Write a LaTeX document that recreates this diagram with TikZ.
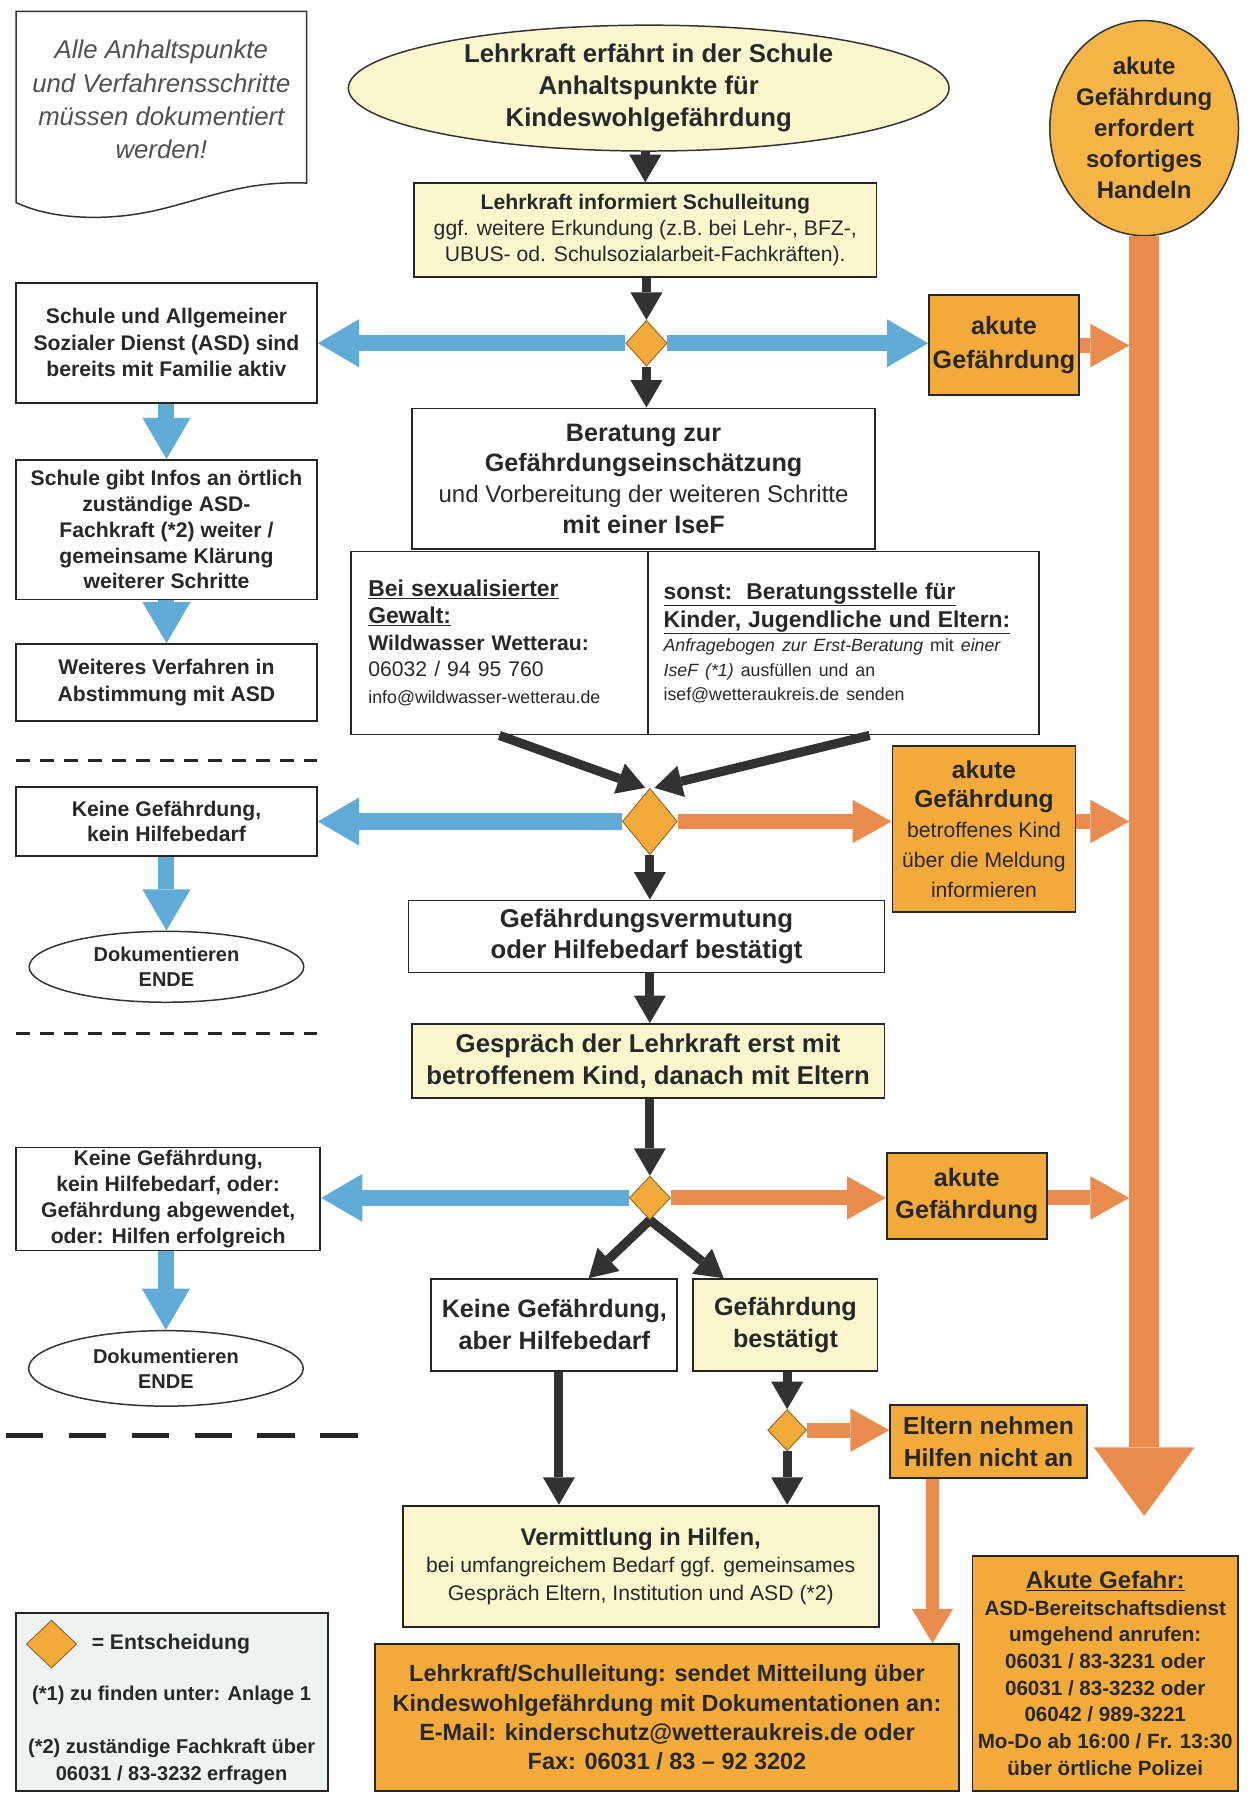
\documentclass[tikz,border=0pt]{standalone}
\usepackage{fontspec}
\setmainfont{Liberation Sans}
\usetikzlibrary{shapes.geometric,arrows.meta,calc}
\definecolor{cTxt}{RGB}{40,40,40}
\definecolor{cNote}{RGB}{80,80,80}
\definecolor{cYel}{RGB}{250,246,205}
\definecolor{cOrBox}{RGB}{242,170,58}
\definecolor{cCirc}{RGB}{245,180,70}
\definecolor{cOrArr}{RGB}{234,140,78}
\definecolor{cBlue}{RGB}{96,172,214}
\definecolor{cGray}{RGB}{50,50,50}
\definecolor{cLeg}{RGB}{238,242,241}
\definecolor{cDiaE}{RGB}{150,100,30}
\newcommand{\setfs}[2]{\fontsize{#1}{#2}\selectfont}
\tikzset{
  base/.style={text=cTxt, inner sep=0pt, align=center},
  bx/.style={base, draw=black!85, line width=1.6pt, rectangle},
  ell/.style={base, draw=black!80, line width=1.3pt, ellipse},
  dia/.style={diamond, draw=cDiaE, fill=cOrBox, line width=0.8pt, inner sep=0pt},
  blk/.style={draw=cGray, line width=8pt, -{Triangle[length=24pt,width=28pt,line width=0pt]}},
  blu/.style={draw=cBlue, line width=14pt, -{Triangle[length=36pt,width=42pt,line width=0pt]}},
  ora/.style={draw=cOrArr, line width=13pt, -{Triangle[length=34pt,width=38pt,line width=0pt]}},
  dashline/.style={draw=black!85, line width=2.5pt, dash pattern=on 12pt off 9pt}
}
\begin{document}
\begin{tikzpicture}[x=1pt,y=-1pt]
\useasboundingbox (0,0) rectangle (1098,1568);
\fill[white] (0,0) rectangle (1098,1568);

% note (document shape)
\draw[line width=1.3pt, draw=black!80, fill=white] (14,10) -- (268,10) -- (268,160)
  .. controls (215,158) and (185,172) .. (140,183)
  .. controls (95,194) and (45,192) .. (14,177) -- cycle;
\node[base, text=cNote, font=\setfs{22.5}{29}\itshape] (note) at (141,87)
  {Alle Anhaltspunkte\\und Verfahrensschritte\\müssen dokumentiert\\werden!};

% main column
\node[ell, fill=cYel, minimum width=525pt, minimum height=110pt, font=\setfs{22.5}{28}\bfseries] (start) at (567,77)
  {Lehrkraft erfährt in der Schule\\Anhaltspunkte für\\Kindeswohlgefährdung};
\node[bx, fill=cYel, minimum width=404pt, minimum height=82pt, font=\setfs{18.5}{22.5}] (info) at (564,201)
  {\textbf{Lehrkraft informiert Schulleitung}\\ggf. weitere Erkundung (z.B. bei Lehr-, BFZ-,\\UBUS- od. Schulsozialarbeit-Fachkräften).};
\node[dia, minimum width=36pt, minimum height=40pt] (d1) at (565,300) {};
\node[bx, minimum width=405pt, minimum height=123pt, font=\setfs{21}{27}] (ber) at (562.5,418.5)
  {\textbf{\setfs{22}{27}Beratung zur}\\\textbf{\setfs{22}{27}Gefährdungseinschätzung}\\und Vorbereitung der weiteren Schritte\\\textbf{\setfs{22}{27}mit einer IseF}};
\node[bx, align=left, text width=229pt, inner xsep=15pt, minimum height=160pt, font=\setfs{18.5}{23.5}] (splitL) at (436.5,562)
  {{\setfs{20}{24}\bfseries\underline{Bei sexualisierter}}\\
   {\setfs{20}{24}\bfseries\underline{Gewalt:}}\\
   \textbf{Wildwasser Wetterau:}\\
   06032 / 94 95 760\\
   {\setfs{15.5}{20}info@wildwasser-wetterau.de}};
\node[bx, align=left, text width=314pt, inner xsep=14pt, minimum height=160pt, font=\setfs{18.5}{21.5}] (splitR) at (737,562)
  {{\setfs{20}{24}\bfseries\underline{sonst:\ \ Beratungsstelle für}}\\[3pt]
   {\setfs{20}{24}\bfseries\underline{Kinder, Jugendliche und Eltern:}}\\
   {\setfs{15.5}{20}\textit{Anfragebogen zur Erst-Beratung} mit \textit{einer}}\\
   {\setfs{15.5}{20}\textit{IseF (*1)} ausfüllen und an}\\
   {\setfs{15.5}{20}isef@wetteraukreis.de senden}};
\node[dia, minimum width=48pt, minimum height=58pt] (d2) at (568,718) {};
\node[bx, minimum width=416pt, minimum height=63pt, font=\setfs{22.5}{27}\bfseries] (gv) at (565,818.5)
  {Gefährdungsvermutung\\oder Hilfebedarf bestätigt};
\node[bx, fill=cYel, minimum width=413pt, minimum height=65pt, font=\setfs{22.5}{28}\bfseries] (gs) at (566.5,927.5)
  {Gespräch der Lehrkraft erst mit\\betroffenem Kind, danach mit Eltern};
\node[dia, minimum width=36pt, minimum height=38pt] (d3) at (568,1047) {};
\node[bx, minimum width=215pt, minimum height=80pt, font=\setfs{22}{28}\bfseries] (kab) at (484.5,1158)
  {Keine Gefährdung,\\aber Hilfebedarf};
\node[bx, fill=cYel, minimum width=161pt, minimum height=80pt, font=\setfs{22}{28}\bfseries] (gb) at (686.5,1158)
  {Gefährdung\\bestätigt};
\node[dia, minimum width=34pt, minimum height=36pt] (d4) at (688,1250) {};
\node[bx, fill=cOrBox, minimum width=172pt, minimum height=64pt, font=\setfs{21.5}{28}\bfseries] (elt) at (864,1260)
  {Eltern nehmen\\Hilfen nicht an};
\node[bx, fill=cYel, minimum width=416pt, minimum height=106pt, font=\setfs{18.5}{24}] (verm) at (560,1369)
  {\textbf{\setfs{21}{24}Vermittlung in Hilfen,}\\bei umfangreichem Bedarf ggf. gemeinsames\\Gespräch Eltern, Institution und ASD (*2)};
\node[bx, fill=cOrBox, minimum width=510pt, minimum height=128pt, font=\setfs{20.5}{25.5}\bfseries] (big) at (583,1501)
  {Lehrkraft/Schulleitung: sendet Mitteilung über\\Kindeswohlgefährdung mit Dokumentationen an:\\E-Mail: kinderschutz@wetteraukreis.de oder\\Fax: 06031 / 83 – 92 3202};

% right column
\node[ell, fill=cCirc, minimum width=165pt, minimum height=188pt, inner xsep=-14pt, inner ysep=-2pt, font=\setfs{21}{27}\bfseries] (akut) at (1000,112)
  {akute\\Gefährdung\\erfordert\\sofortiges\\Handeln};
\node[bx, fill=cOrBox, minimum width=131pt, minimum height=87pt, font=\setfs{22}{29}\bfseries] (ak1) at (877.5,301.5)
  {akute\\Gefährdung};
\node[bx, fill=cOrBox, minimum width=160pt, minimum height=145pt, font=\setfs{18.5}{26}] (ak2) at (860,724.5)
  {\textbf{\setfs{21.5}{26}akute}\\\textbf{\setfs{21.5}{26}Gefährdung}\\betroffenes Kind\\über die Meldung\\informieren};
\node[bx, fill=cOrBox, minimum width=140pt, minimum height=75pt, font=\setfs{22}{28}\bfseries] (ak3) at (845,1045.5)
  {akute\\Gefährdung};
\node[bx, fill=cOrBox, minimum width=232pt, minimum height=205pt, font=\setfs{18}{23.3}\bfseries] (gefahr) at (966,1462.5)
  {\underline{\setfs{21}{24}Akute Gefahr:}\\ASD-Bereitschaftsdienst\\umgehend anrufen:\\06031 / 83-3231 oder\\06031 / 83-3232 oder\\06042 / 989-3221\\Mo-Do ab 16:00 / Fr. 13:30\\über örtliche Polizei};
\coordinate (col1) at (987,302);
\coordinate (col2) at (987,718);
\coordinate (col3) at (987,1047);
\coordinate (colend) at (1000,1325);

% left column
\node[bx, minimum width=263pt, minimum height=105pt, font=\setfs{18.5}{23}\bfseries] (boxA) at (145.5,299.5)
  {Schule und Allgemeiner\\Sozialer Dienst (ASD) sind\\bereits mit Familie aktiv};
\node[bx, minimum width=263pt, minimum height=122pt, font=\setfs{18.5}{22.5}\bfseries] (boxB) at (145.5,463)
  {Schule gibt Infos an örtlich\\zuständige ASD-\\Fachkraft (*2) weiter /\\gemeinsame Klärung\\weiterer Schritte};
\node[bx, minimum width=263pt, minimum height=67pt, font=\setfs{18.5}{23}\bfseries] (boxC) at (145.5,596.5)
  {Weiteres Verfahren in\\Abstimmung mit ASD};
\node[bx, minimum width=263pt, minimum height=60pt, font=\setfs{18.5}{22}\bfseries] (kein1) at (145.5,718)
  {Keine Gefährdung,\\kein Hilfebedarf};
\node[ell, minimum width=240pt, minimum height=62pt, font=\setfs{17.5}{22}\bfseries] (dok1) at (145.5,845)
  {Dokumentieren\\ENDE};
\node[bx, minimum width=266pt, minimum height=90pt, font=\setfs{18.5}{22.5}\bfseries] (kein3) at (147,1048)
  {Keine Gefährdung,\\kein Hilfebedarf, oder:\\Gefährdung abgewendet,\\oder: Hilfen erfolgreich};
\node[ell, minimum width=240pt, minimum height=66pt, font=\setfs{17.5}{22}\bfseries] (dok2) at (145,1196)
  {Dokumentieren\\ENDE};

% dashed separators
\draw[dashline] (14,665) -- (277,665);
\draw[dashline] (14,903) -- (277,903);
\draw[draw=black!85, line width=4.5pt, dash pattern=on 33pt off 22pt] (5,1255) -- (330,1255);

% legend
\node[bx, fill=cLeg, minimum width=273pt, minimum height=155pt] (leg) at (150.5,1487.5) {};
\node[dia, minimum width=44pt, minimum height=42pt] (legd) at (45,1437) {};
\node[base, anchor=west, font=\setfs{18.5}{22}\bfseries] (legt) at (80,1437) {= Entscheidung};
\node[base, font=\setfs{17.5}{22}\bfseries] (leg1) at (150,1482) {(*1) zu finden unter: Anlage 1};
\node[base, font=\setfs{17.5}{23}\bfseries] (leg2) at (150,1540) {(*2) zuständige Fachkraft über\\06031 / 83-3232 erfragen};

% connectors: main flow
\draw[blk] (start.south -| info) -- (info.north);
\draw[blk] (info.south -| d1) -- (d1.north);
\draw[blk] (d1.south) -- (d1.south |- ber.north);
\draw[blk] (splitL.south) -- ([xshift=-4pt]d2.north);
\draw[blk] ([xshift=23pt]splitR.south) -- ([xshift=4pt]d2.north);
\draw[blk] (d2.south) -- (d2.south |- gv.north);
\draw[blk] (gv.south -| d2) -- (gs.north -| d2);
\draw[blk] (gs.south -| d3) -- (d3.north);
\draw[blk] (d3.south) -- ([xshift=30pt]kab.north);
\draw[blk] (d3.south) -- ([xshift=-54pt]gb.north);
\draw[blk] ([xshift=4pt]kab.south) -- ([xshift=4pt]kab.south |- verm.north);
\draw[blk] (gb.south -| d4) -- (d4.north);
\draw[blk] (d4.south) -- (d4.south |- verm.north);

% blue connectors
\draw[blu] (d1.west) -- (d1.west -| boxA.east);
\draw[blu] (d1.east) -- (d1.east -| ak1.west);
\draw[blu] (boxA.south) -- (boxB.north);
\draw[blu] (boxB.south) -- (boxC.north);
\draw[blu] (d2.west) -- (d2.west -| kein1.east);
\draw[blu] (kein1.south) -- (dok1.north);
\draw[blu] (d3.west) -- (d3.west -| kein3.east);
\draw[blu] (kein3.south -| dok2) -- (dok2.north);

% orange connectors
\draw[ora] (ak1.east |- col1) -- (col1);
\draw[ora] (d2.east) -- (d2.east -| ak2.west);
\draw[ora] (ak2.east |- col2) -- (col2);
\draw[ora] (d3.east) -- (d3.east -| ak3.west);
\draw[ora] (ak3.east |- col3) -- (col3);
\draw[ora] (d4.east) -- (d4.east -| elt.west);
\draw[draw=cOrArr, line width=12pt, -{Triangle[length=30pt,width=36pt,line width=0pt]}] ([xshift=-49pt]elt.south) -- ([xshift=-49pt]elt.south |- big.north);
\draw[draw=cOrArr, line width=26pt, -{Triangle[length=60pt,width=88pt,line width=0pt]}] (akut.south) -- (colend);
\end{tikzpicture}
\end{document}
